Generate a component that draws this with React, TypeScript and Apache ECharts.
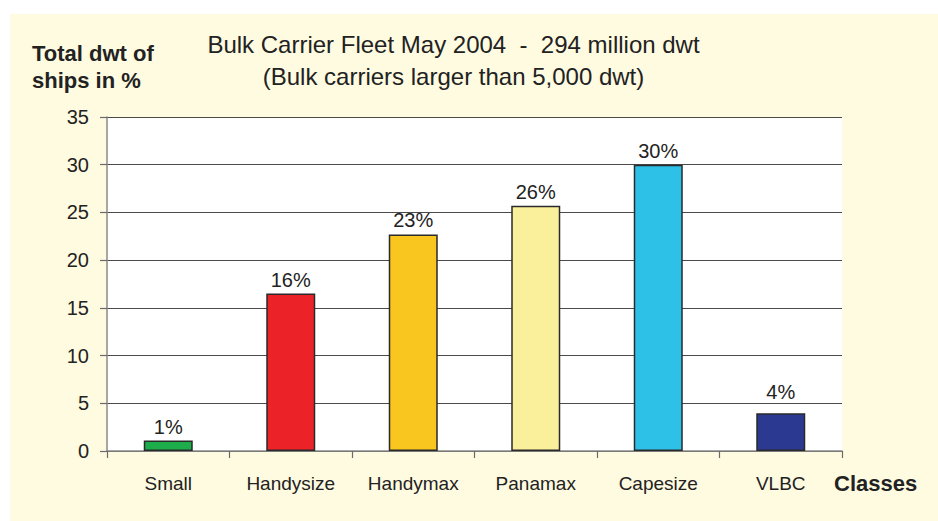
import React, { useEffect, useRef } from "react";
import * as echarts from "echarts";

const categories = ["Small", "Handysize", "Handymax", "Panamax", "Capesize", "VLBC"];
const values = [1.1, 16.5, 22.7, 25.7, 30.0, 3.95];
const valueLabels = ["1%", "16%", "23%", "26%", "30%", "4%"];
const barColors = ["#1DAE4B", "#EC2229", "#F9C51F", "#FAF09C", "#2EC1E8", "#2B3990"];
const titleLine1 = "Bulk Carrier Fleet May 2004  -  294 million dwt";
const titleLine2 = "(Bulk carriers larger than 5,000 dwt)";
const yTitle1 = "Total dwt of";
const yTitle2 = "ships in %";
const xTitle = "Classes";

const FONT = "'Liberation Sans', Arial, Helvetica, sans-serif";

export default function App() {
  const ref = useRef<HTMLDivElement>(null);
  useEffect(() => {
    if (!ref.current) return;
    const chart = echarts.init(ref.current, undefined, { renderer: "svg" });
    chart.setOption({
      animation: false,
      textStyle: { fontFamily: FONT },
      grid: {
        left: 107,
        top: 117,
        width: 735,
        height: 334,
        show: true,
        backgroundColor: "#FFFFFF",
        borderWidth: 0,
      },
      xAxis: {
        type: "category",
        data: categories,
        boundaryGap: true,
        axisLine: { show: true, lineStyle: { color: "#8A8A8A", width: 1.5 } },
        axisTick: { show: true, interval: 0, length: 7, alignWithLabel: false, lineStyle: { color: "#6A6A6A", width: 1.2 } },
        axisLabel: { interval: 0, hideOverlap: false, color: "#222222", fontSize: 19, margin: 23, fontFamily: FONT },
        splitLine: { show: false },
      },
      yAxis: {
        type: "value",
        min: 0,
        max: 35,
        interval: 5,
        axisLine: { show: true, lineStyle: { color: "#8A8A8A", width: 1.5 } },
        axisTick: { show: true, length: 7, lineStyle: { color: "#6A6A6A", width: 1.2 } },
        axisLabel: { color: "#222222", fontSize: 20, margin: 18, fontFamily: FONT },
        splitLine: { show: true, lineStyle: { color: "#4A4A4A", width: 1.2 } },
      },
      series: [
        {
          type: "bar",
          barWidth: "40%",
          data: values.map((v, i) => ({
            value: v,
            itemStyle: { color: barColors[i], borderColor: "#2A2A2A", borderWidth: 1.5 },
            label: i === values.length - 1 ? { distance: 11 } : undefined,
          })),
          label: {
            show: true,
            position: "top",
            distance: 4,
            color: "#222222",
            fontSize: 20,
            fontFamily: FONT,
            formatter: (p: any) => valueLabels[p.dataIndex],
          },
        },
      ],
      graphic: [
        {
          type: "text",
          x: 453.5,
          y: 44.7,
          style: {
            text: titleLine1,
            textAlign: "center",
            textVerticalAlign: "middle",
            font: `24px ${FONT}`,
            fill: "#222222",
          },
        },
        {
          type: "text",
          x: 453.5,
          y: 76.7,
          style: {
            text: titleLine2,
            textAlign: "center",
            textVerticalAlign: "middle",
            font: `24px ${FONT}`,
            fill: "#222222",
          },
        },
        {
          type: "text",
          x: 32,
          y: 53.7,
          style: {
            text: yTitle1,
            textAlign: "left",
            textVerticalAlign: "middle",
            font: `bold 22px ${FONT}`,
            fill: "#222222",
          },
        },
        {
          type: "text",
          x: 32,
          y: 80.3,
          style: {
            text: yTitle2,
            textAlign: "left",
            textVerticalAlign: "middle",
            font: `bold 22px ${FONT}`,
            fill: "#222222",
          },
        },
        {
          type: "text",
          x: 834,
          y: 483.5,
          style: {
            text: xTitle,
            textAlign: "left",
            textVerticalAlign: "middle",
            font: `bold 22px ${FONT}`,
            fill: "#222222",
          },
        },
      ],
    });
    return () => chart.dispose();
  }, []);

  return (
    <div style={{ position: "fixed", left: 0, top: 0, width: 938, height: 521, background: "#FFFFFF" }}>
      <div style={{ position: "absolute", left: 10, top: 14, width: 928, height: 507, background: "#FFFBE1" }} />
      <div ref={ref} style={{ position: "absolute", left: 0, top: 0, width: 938, height: 521 }} />
    </div>
  );
}
